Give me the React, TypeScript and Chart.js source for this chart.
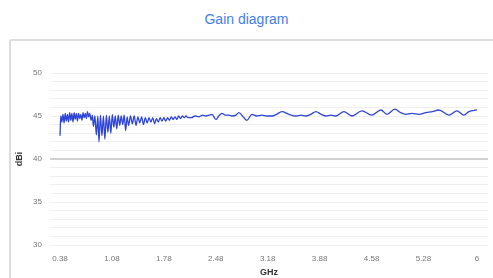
import React, { useEffect, useRef } from "react";
import { Chart, registerables } from "chart.js";

Chart.register(...registerables);

const freqGHz: number[] = [
  0.38, 0.39, 0.405, 0.42, 0.435, 0.45, 0.465, 0.48, 0.495, 0.51, 0.525, 0.54, 0.555, 0.57, 0.585, 0.6,
  0.615, 0.63, 0.645, 0.66, 0.675, 0.69, 0.705, 0.72, 0.735, 0.75, 0.765, 0.78,
  0.8, 0.815, 0.83, 0.85, 0.87, 0.89, 0.905, 0.925, 0.945, 0.965, 0.985, 1.005, 1.025, 1.045, 1.065,
  1.085, 1.105, 1.125, 1.145, 1.165, 1.185, 1.205, 1.225, 1.245, 1.265, 1.285, 1.305,
  1.33, 1.355, 1.38, 1.405, 1.43, 1.455, 1.48, 1.505, 1.53, 1.555, 1.58, 1.605, 1.63, 1.655, 1.68,
  1.705, 1.73, 1.755, 1.78, 1.805, 1.83, 1.855, 1.88, 1.905, 1.93, 1.955, 1.98, 2.005, 2.03, 2.055,
  2.08, 2.105, 2.15, 2.2, 2.253, 2.3, 2.347, 2.39, 2.428, 2.482, 2.52, 2.563, 2.61, 2.658, 2.7, 2.752,
  2.792, 2.85, 2.9, 2.968, 3.03, 3.1, 3.17, 3.237, 3.3, 3.372, 3.466, 3.561, 3.63, 3.695, 3.76, 3.83,
  3.9, 3.965, 4.03, 4.1, 4.207, 4.315, 4.45, 4.585, 4.706, 4.787, 4.895, 4.97, 5.043, 5.124, 5.22,
  5.313, 5.4, 5.488, 5.623, 5.731, 5.825, 5.893, 6.0,
];

const gainDBi: number[] = [
  42.7, 45.0, 44.3, 45.2, 44.2, 45.3, 44.4, 45.2, 44.3, 45.4, 44.5, 45.3, 44.3, 45.4, 44.6, 45.3,
  44.4, 45.3, 44.7, 45.2, 44.5, 45.4, 44.8, 45.3, 44.7, 45.5, 44.9, 45.3,
  44.5, 45.1, 43.8, 45.0, 42.8, 45.0, 42.0, 45.1, 42.7, 45.0, 42.3, 45.1, 43.1, 45.0, 43.0,
  45.2, 43.7, 45.0, 43.5, 45.1, 43.9, 45.0, 44.0, 45.1, 43.3, 44.9, 43.9,
  45.0, 44.1, 45.0, 43.9, 44.9, 44.2, 44.9, 44.0, 44.8, 44.2, 44.8, 44.3, 44.8, 44.1, 44.7,
  44.3, 44.8, 44.4, 44.8, 44.4, 44.8, 44.5, 44.9, 44.6, 44.9, 44.6, 45.0, 44.7, 45.0, 44.8,
  45.0, 44.8, 44.8, 45.0, 44.9, 45.1, 45.0, 45.1, 45.2, 44.6, 45.0, 45.3, 45.1, 45.1, 45.0, 45.1,
  45.4, 44.9, 44.5, 45.2, 45.0, 45.1, 45.0, 45.0, 45.2, 45.5, 45.2, 45.0, 45.1, 45.0, 45.2, 45.5,
  45.2, 45.0, 45.1, 45.0, 45.5, 45.0, 45.6, 45.1, 45.7, 45.2, 45.8, 45.4, 45.2, 45.3, 45.2,
  45.4, 45.5, 45.7, 45.1, 45.6, 45.1, 45.5, 45.7,
];

const xTickValues: number[] = [0.38, 1.08, 1.78, 2.48, 3.18, 3.88, 4.58, 5.28, 6];
const yLabelValues: number[] = [30, 35, 40, 45, 50];

const FONT = "'Liberation Sans', Arial, sans-serif";

export default function App() {
  const canvasRef = useRef<HTMLCanvasElement | null>(null);

  useEffect(() => {
    if (!canvasRef.current) return;
    const points = freqGHz.map((f, i) => ({ x: f, y: gainDBi[i] }));
    const chart = new Chart(canvasRef.current, {
      type: "line",
      data: {
        datasets: [
          {
            label: "Gain",
            data: points,
            borderColor: "#2f45d8",
            borderWidth: 1.3,
            pointRadius: 0,
            fill: false,
            cubicInterpolationMode: "monotone",
          },
        ],
      },
      options: {
        animation: false,
        responsive: false,
        maintainAspectRatio: false,
        layout: { padding: { top: 32, right: 5, left: 4, bottom: 0 } },
        plugins: { legend: { display: false }, tooltip: { enabled: false } },
        scales: {
          x: {
            type: "linear",
            min: 0.245,
            max: 6.15,
            afterBuildTicks: (scale: any) => {
              scale.ticks = xTickValues.map((v) => ({ value: v }));
            },
            afterFit: (scale: any) => {
              scale.height = 33;
            },
            grid: { display: false },
            border: { display: false },
            ticks: {
              autoSkip: false,
              maxRotation: 0,
              padding: 1,
              color: "#777",
              font: { family: FONT, size: 8 },
              callback: (v: any) => String(Number(v)),
            },
            title: {
              display: true,
              text: "GHz",
              color: "#333",
              font: { family: FONT, size: 9, weight: "bold" },
              padding: { top: 4, bottom: 0 },
            },
          },
          y: {
            min: 30,
            max: 50,
            afterFit: (scale: any) => {
              scale.width = 36;
            },
            border: { display: false },
            grid: {
              color: (ctx: any) => (ctx.tick && ctx.tick.value === 40 ? "#cfcfcf" : "#efefef"),
              lineWidth: (ctx: any) => (ctx.tick && ctx.tick.value === 40 ? 2 : 1),
              drawTicks: false,
            },
            ticks: {
              stepSize: 1,
              autoSkip: false,
              padding: 8,
              color: "#777",
              font: { family: FONT, size: 8 },
              callback: (v: any) => (yLabelValues.includes(Number(v)) ? String(v) : ""),
            },
            title: {
              display: true,
              text: "dBi",
              color: "#333",
              font: { family: FONT, size: 9, weight: "bold" },
              padding: { top: 0, bottom: 0 },
            },
          },
        },
      },
    });
    return () => chart.destroy();
  }, []);

  return (
    <div style={{ position: "fixed", left: 0, top: 0, width: 493, height: 278, overflow: "hidden", background: "#fff" }}>
      <div
        style={{
          position: "absolute",
          left: 0,
          top: 10,
          width: 493,
          textAlign: "center",
          fontFamily: FONT,
          fontSize: 14,
          color: "#3f7ef2",
          lineHeight: "18px",
        }}
      >
        Gain diagram
      </div>
      <div
        style={{
          position: "absolute",
          left: 9,
          top: 39,
          width: 510,
          height: 260,
          border: "2px solid #dcdcdc",
          borderRadius: 3,
          boxSizing: "border-box",
        }}
      />
      <canvas
        ref={canvasRef}
        width={483}
        height={237}
        style={{ position: "absolute", left: 10, top: 41, width: 483, height: 237 }}
      />
    </div>
  );
}
